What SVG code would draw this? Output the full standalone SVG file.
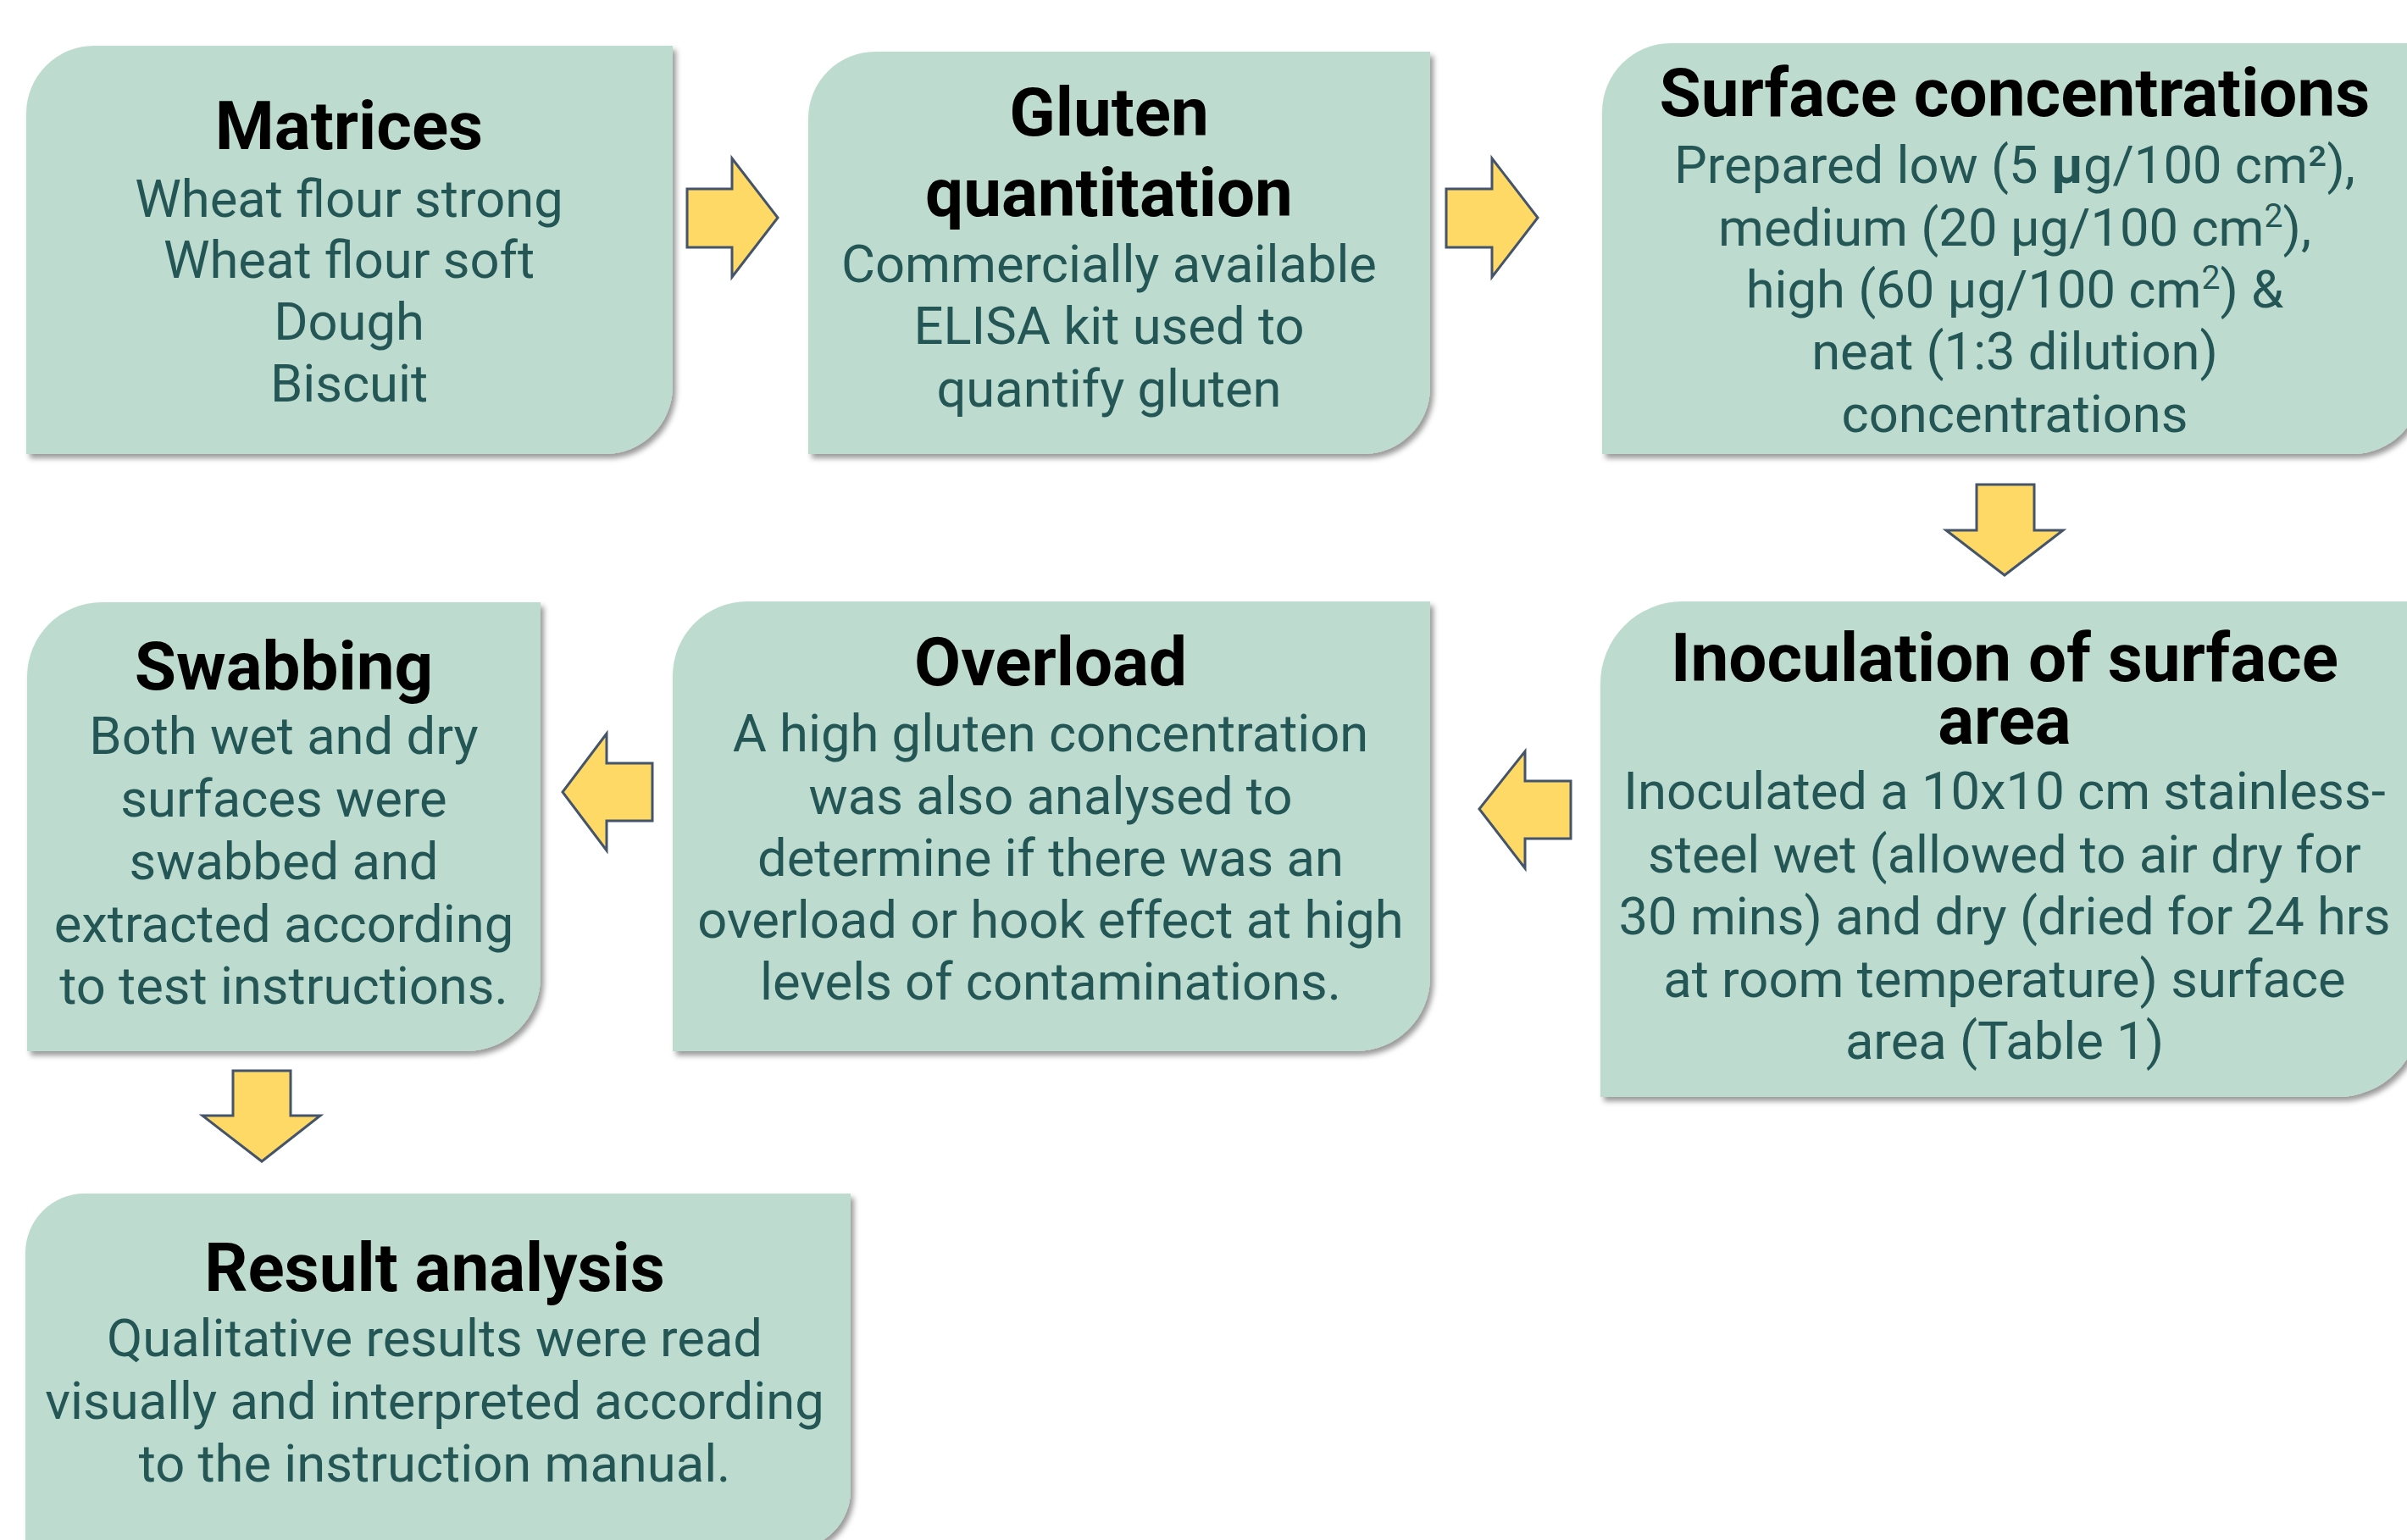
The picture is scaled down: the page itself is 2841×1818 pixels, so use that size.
<svg xmlns="http://www.w3.org/2000/svg" width="2841" height="1818" viewBox="0 0 2841 1818">
<style>
.box{fill:#bddccf;filter:url(#sh)}
.t{font-family:Roboto,"Liberation Sans",sans-serif;font-weight:700;font-size:80px;fill:#000;text-anchor:middle}
.b{font-family:Roboto,"Liberation Sans",sans-serif;font-weight:400;font-size:61.5px;fill:#255656;text-anchor:middle}
.arr{fill:#ffd966;stroke:#44546a;stroke-width:3;stroke-linejoin:miter}
.sup{font-size:39px}
</style>
<defs>
<filter id="sh" x="-5%" y="-5%" width="115%" height="115%">
<feDropShadow dx="4" dy="5" stdDeviation="3" flood-color="#000" flood-opacity="0.4"/>
</filter>
</defs>
<rect width="2841" height="1818" fill="#fff"/>
<g id="connectors">
<path class="arr" d="M811,223 H864 V187 L918,257 L864,327 V292 H811 Z"/>
<path class="arr" d="M1707,223 H1761 V187 L1815,257 L1761,327 V292 H1707 Z"/>
<path class="arr" d="M2333,572 H2401 V626 H2435 L2366,679 L2297,626 H2333 Z"/>
<path class="arr" d="M1854,922 V990 H1800 V1025 L1746,955 L1800,887 V922 Z"/>
<path class="arr" d="M770,901 V969 H716 V1004 L664,935 L716,866 V901 Z"/>
<path class="arr" d="M275,1264 H343 V1317 H378 L309,1371 L239,1317 H275 Z"/>
</g>
<g id="matrices">
<path class="box" d="M111,54 H794 V456 A80 80 0 0 1 714,536 H31 V134 A80 80 0 0 1 111,54 Z"/>
<text class="t" x="412" y="176">Matrices</text>
<text class="b" x="412" y="256">Wheat flour strong</text>
<text class="b" x="412" y="328">Wheat flour soft</text>
<text class="b" x="412" y="401">Dough</text>
<text class="b" x="412" y="474">Biscuit</text>
</g>
<g id="gluten">
<path class="box" d="M1033,61 H1688 V457 A79 79 0 0 1 1609,536 H954 V140 A79 79 0 0 1 1033,61 Z"/>
<text class="t" x="1309" y="160">Gluten</text>
<text class="t" x="1309" y="255">quantitation</text>
<text class="b" x="1309" y="333">Commercially available</text>
<text class="b" x="1309" y="406">ELISA kit used to</text>
<text class="b" x="1309" y="480">quantify gluten</text>
</g>
<g id="surface">
<path class="box" d="M1972,51 H2858 V455 A81 81 0 0 1 2777,536 H1891 V132 A81 81 0 0 1 1972,51 Z"/>
<text class="t" x="2378" y="137">Surface concentrations</text>
<text class="b" x="2378" y="216">Prepared low (5 <tspan font-weight="700">µ</tspan>g/100 cm²),</text>
<text class="b" x="2378" y="290">medium (20 µg/100 cm<tspan class="sup" dy="-22">2</tspan><tspan dy="22">),</tspan></text>
<text class="b" x="2378" y="363">high (60 µg/100 cm<tspan class="sup" dy="-22">2</tspan><tspan dy="22">) &amp;</tspan></text>
<text class="b" x="2378" y="436">neat (1:3 dilution)</text>
<text class="b" x="2378" y="510">concentrations</text>
</g>
<g id="inoculation">
<path class="box" d="M1986,710 H2856 V1198 A97 97 0 0 1 2759,1295 H1889 V807 A97 97 0 0 1 1986,710 Z"/>
<text class="t" x="2366" y="804">Inoculation of surface</text>
<text class="t" x="2366" y="878">area</text>
<text class="b" x="2366" y="955">Inoculated a 10x10 cm stainless-</text>
<text class="b" x="2366" y="1030">steel wet (allowed to air dry for</text>
<text class="b" x="2366" y="1103">30 mins) and dry (dried for 24 hrs</text>
<text class="b" x="2366" y="1177">at room temperature) surface</text>
<text class="b" x="2366" y="1250">area (Table 1)</text>
</g>
<g id="overload">
<path class="box" d="M882,710 H1688 V1153 A88 88 0 0 1 1600,1241 H794 V798 A88 88 0 0 1 882,710 Z"/>
<text class="t" x="1240" y="809">Overload</text>
<text class="b" x="1240" y="887">A high gluten concentration</text>
<text class="b" x="1240" y="961">was also analysed to</text>
<text class="b" x="1240" y="1034">determine if there was an</text>
<text class="b" x="1240" y="1107">overload or hook effect at high</text>
<text class="b" x="1240" y="1180">levels of contaminations.</text>
</g>
<g id="swabbing">
<path class="box" d="M120,711 H638 V1153 A88 88 0 0 1 550,1241 H32 V799 A88 88 0 0 1 120,711 Z"/>
<text class="t" x="335" y="814">Swabbing</text>
<text class="b" x="335" y="890">Both wet and dry</text>
<text class="b" x="335" y="964">surfaces were</text>
<text class="b" x="335" y="1038">swabbed and</text>
<text class="b" x="335" y="1112">extracted according</text>
<text class="b" x="335" y="1185">to test instructions.</text>
</g>
<g id="result">
<path class="box" d="M100,1409 H1004 V1759 A70 70 0 0 1 934,1829 H30 V1479 A70 70 0 0 1 100,1409 Z"/>
<text class="t" x="513" y="1524">Result analysis</text>
<text class="b" x="513" y="1601">Qualitative results were read</text>
<text class="b" x="513" y="1675">visually and interpreted according</text>
<text class="b" x="513" y="1749">to the instruction manual.</text>
</g>
</svg>
